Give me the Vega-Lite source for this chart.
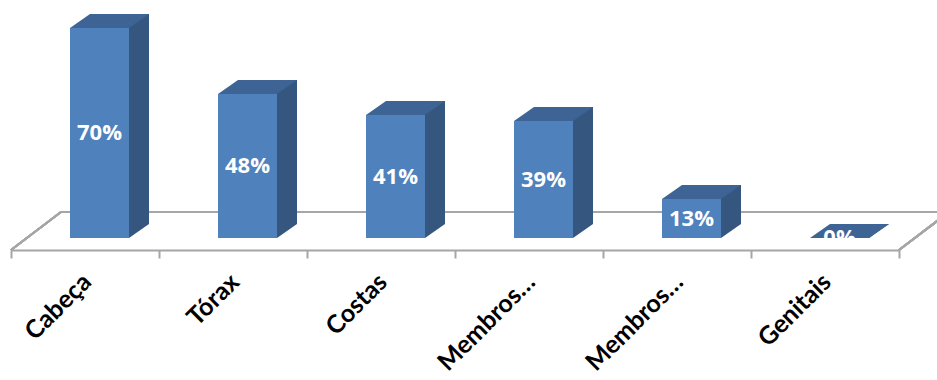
{
  "$schema": "https://vega.github.io/schema/vega-lite/v6.json",
  "width": 888,
  "height": 250,
  "autosize": {"type": "none"},
  "padding": {"left": 11, "top": 0, "right": 38, "bottom": 130},
  "background": "white",
  "config": {"view": {"stroke": null}},
  "data": {
    "values": [
      {"parte": "Cabeça", "pct": 0.70},
      {"parte": "Tórax", "pct": 0.48},
      {"parte": "Costas", "pct": 0.41},
      {"parte": "Membros superiores", "pct": 0.39},
      {"parte": "Membros inferiores", "pct": 0.13},
      {"parte": "Genitais", "pct": 0.0}
    ]
  },
  "resolve": {"scale": {"y": "independent"}},
  "layer": [
    {
      "mark": {"type": "rule", "color": "#A6A6A6", "strokeWidth": 2, "xOffset": -24, "x2Offset": 124},
      "encoding": {
        "x": {
          "datum": "Cabeça", "type": "nominal",
          "scale": {"domain": ["Cabeça", "Tórax", "Costas", "Membros superiores", "Membros inferiores", "Genitais"], "paddingInner": 0, "paddingOuter": 0},
          "axis": {
            "title": null,
            "domainColor": "#A6A6A6", "domainWidth": 2,
            "tickColor": "#A6A6A6", "tickWidth": 2, "tickSize": 8, "tickBand": "extent",
            "labelAngle": -45, "labelAlign": "right", "labelBaseline": "top",
            "labelFont": "Lato", "labelFontWeight": "bold", "labelFontSize": 25, "labelColor": "black",
            "labelPadding": 11, "labelOffset": -7, "labelLimit": 0,
            "labelExpr": "indexof(datum.label, 'Membros') == 0 ? 'Membros…' : datum.label"
          }
        },
        "x2": {"datum": "Genitais"},
        "y": {"datum": 0.08667, "type": "quantitative", "scale": {"domain": [-0.04, 0.793333], "nice": false, "zero": false}, "axis": null}
      }
    },
    {
      "mark": {"type": "rule", "color": "#A6A6A6", "strokeWidth": 2, "xOffset": -74, "x2Offset": -24},
      "encoding": {
        "x": {"datum": "Cabeça", "type": "nominal"},
        "x2": {"datum": "Cabeça"},
        "y": {"datum": -0.04, "type": "quantitative", "scale": {"domain": [-0.04, 0.793333], "nice": false, "zero": false}, "axis": null},
        "y2": {"datum": 0.08667}
      }
    },
    {
      "mark": {"type": "rule", "color": "#A6A6A6", "strokeWidth": 2, "xOffset": 74, "x2Offset": 124},
      "encoding": {
        "x": {"datum": "Genitais", "type": "nominal"},
        "x2": {"datum": "Genitais"},
        "y": {"datum": -0.04, "type": "quantitative", "scale": {"domain": [-0.04, 0.793333], "nice": false, "zero": false}, "axis": null},
        "y2": {"datum": 0.08667}
      }
    },
    {
      "mark": {"type": "bar", "color": "#35577F", "width": 59, "xOffset": 34.5, "yOffset": -14, "y2Offset": -14},
      "encoding": {
        "x": {"field": "parte", "type": "nominal"},
        "y": {"field": "pct", "type": "quantitative", "scale": {"domain": [-0.04, 0.793333], "nice": false, "zero": false}, "axis": null},
        "y2": {"datum": 0}
      }
    },
    {
      "mark": {"type": "point", "shape": "M29.5,-14L49.5,-14L29.5,0Z", "size": 4, "filled": true, "color": "#35577F", "opacity": 1, "strokeWidth": 0, "xOffset": 14.5},
      "encoding": {
        "x": {"field": "parte", "type": "nominal"},
        "y": {"datum": 0, "type": "quantitative", "scale": {"domain": [-0.04, 0.793333], "nice": false, "zero": false}, "axis": null}
      }
    },
    {
      "mark": {"type": "bar", "color": "#4F81BD", "width": 59, "xOffset": 14.5},
      "encoding": {
        "x": {"field": "parte", "type": "nominal"},
        "y": {"field": "pct", "type": "quantitative", "scale": {"domain": [-0.04, 0.793333], "nice": false, "zero": false}, "axis": null},
        "y2": {"datum": 0}
      }
    },
    {
      "mark": {"type": "point", "shape": "M-29.5,0L29.5,0L49.5,-14L-9.5,-14Z", "size": 4, "filled": true, "color": "#3D6494", "opacity": 1, "strokeWidth": 0, "xOffset": 14.5},
      "encoding": {
        "x": {"field": "parte", "type": "nominal"},
        "y": {"field": "pct", "type": "quantitative", "scale": {"domain": [-0.04, 0.793333], "nice": false, "zero": false}, "axis": null}
      }
    },
    {
      "mark": {"type": "text", "color": "white", "font": "Open Sans", "fontWeight": "bold", "fontSize": 22, "align": "center", "baseline": "middle", "xOffset": 14.5},
      "encoding": {
        "x": {"field": "parte", "type": "nominal"},
        "y": {"field": "pct", "type": "quantitative", "scale": {"domain": [-0.08, 1.586667], "nice": false, "zero": false}, "axis": null},
        "text": {"field": "pct", "type": "quantitative", "format": ".0%"}
      }
    }
  ]
}
